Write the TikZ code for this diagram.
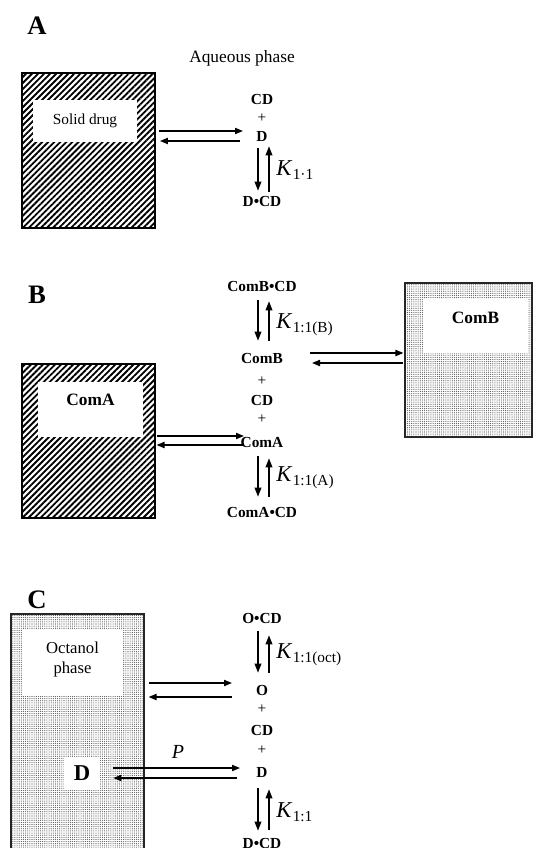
\documentclass[tikz,border=0pt]{standalone}
\usepackage{fontspec}
\setmainfont{Liberation Serif}
\usetikzlibrary{arrows.meta,calc,fit,patterns.meta}
\tikzset{
  % Solid phase: dense diagonal hatching.
  eq/solid/.style={draw=black, line width=0.8pt, inner sep=0pt,
    pattern={Lines[angle=45,distance=3.2pt,line width=1.4pt]}},
  % Second phase: fine stipple.
  eq/stip/.style={draw=black!85, line width=0.8pt, inner sep=0pt,
    pattern={Dots[distance=1.6pt,radius=0.42pt]}, pattern color=black!70},
  % White label patch inside a phase.
  eq/blank/.style={fill=white, inner sep=0pt},
  % Species in solution.
  eq/chem/.style={font=\fontsize{11.5}{13}\selectfont\bfseries, inner sep=1pt},
  eq/plus/.style={font=\fontsize{11.5}{13}\selectfont, inner sep=1pt},
  eq/K/.style={font=\fontsize{17}{19}\selectfont, anchor=west, inner sep=0pt},
  eq/panel/.style={font=\fontsize{20}{22}\selectfont\bfseries},
  eq/txt/.style={font=\fontsize{11.5}{14}\selectfont, align=center, inner sep=0pt},
  % Arrows: thin for transfer between phases, heavy for complexation.
  eq/arr/.style={-{Triangle[length=6pt,width=4.6pt]}, line width=1.15pt},
  eq/varr/.style={-{Triangle[length=7pt,width=4.8pt]}, line width=1.6pt},
}
\newcommand{\keq}[1]{\textit{K}\kern0.3pt\raisebox{-0.35ex}{\fontsize{11.5}{13}\selectfont #1}}

\begin{document}
\begin{tikzpicture}[x=0.75pt,y=-0.75pt]
  \useasboundingbox (0,0) rectangle (533,848);
  % (A) solid drug in contact with the aqueous phase
  \node[eq/panel] (pA) at (37,26) {A};
  \node[eq/txt, font=\fontsize{13}{15}\selectfont] (aq) at (242,58) {Aqueous phase};
  \node[eq/solid, fit={(22,73)(155,228)}] (solidA) {};
  \node[eq/blank, fit={(33,100)(137,142)}] (solidAw) {};
  \node[eq/txt] (solidAt) at (solidAw) {Solid drug};
  \node[eq/chem] (CDa) at (262,100) {CD};
  \node[eq/plus] (plA) at (262,118) {+};
  \node[eq/chem] (Da) at (262,136) {D};
  \node[eq/chem] (DCDa) at (262,201) {D•CD};
  \node[eq/K] (Ka) at (276,170) {\keq{1·1}};
  \draw[eq/arr] ($(solidA.east |- Da)+(3,-5)$) -- ($(Da)+(-19,-5)$);
  \draw[eq/arr] ($(Da)+(-22,5)$) -- ($(solidA.east |- Da)+(4,5)$);
  \draw[eq/varr] ($(Da)+(-4,12)$) -- ($(DCDa)+(-4,-10)$);
  \draw[eq/varr] ($(DCDa)+(7,-9)$) -- ($(Da)+(7,10)$);

  % (B) two solid components sharing the cyclodextrin
  \node[eq/panel] (pB) at (37,295) {B};
  \node[eq/solid, fit={(22,364)(155,518)}] (solidCA) {};
  \node[eq/blank, fit={(38,382)(143,437)}] (solidCAw) {};
  \node[eq/chem, font=\fontsize{13}{15}\selectfont\bfseries] (solidCAt) at ($(solidCAw)+(0,-10)$) {ComA};
  \node[eq/stip, fit={(405,283)(532,437)}] (solidCB) {};
  \node[eq/blank, fit={(423,299)(528,353)}] (solidCBw) {};
  \node[eq/chem, font=\fontsize{13}{15}\selectfont\bfseries] (solidCBt) at ($(solidCBw)+(0,-8)$) {ComB};
  \node[eq/chem] (CBCD) at (262,286) {ComB•CD};
  \node[eq/chem] (CB) at (262,358) {ComB};
  \node[eq/plus] (plB1) at (262,381) {+};
  \node[eq/chem] (CDb) at (262,400) {CD};
  \node[eq/plus] (plB2) at (262,419) {+};
  \node[eq/chem] (CA) at (262,442) {ComA};
  \node[eq/chem] (CACD) at (262,512) {ComA•CD};
  \node[eq/K] (KB) at (276,325) {\keq{1:1(B)}};
  \node[eq/K] (KA) at (276,478) {\keq{1:1(A)}};
  \draw[eq/varr] ($(CBCD)+(-4,14)$) -- ($(CB)+(-4,-17)$);
  \draw[eq/varr] ($(CB)+(7,-17)$) -- ($(CBCD)+(7,15)$);
  \draw[eq/varr] ($(CA)+(-4,14)$) -- ($(CACD)+(-4,-15)$);
  \draw[eq/varr] ($(CACD)+(7,-15)$) -- ($(CA)+(7,16)$);
  \draw[eq/arr] ($(CB)+(48,-5)$) -- ($(solidCB.west |- CB)+(-1,-5)$);
  \draw[eq/arr] ($(solidCB.west |- CB)+(-1,5)$) -- ($(CB)+(50,5)$);
  \draw[eq/arr] ($(solidCA.east |- CA)+(1,-6)$) -- ($(CA)+(-18,-6)$);
  \draw[eq/arr] ($(CA)+(-19,3)$) -- ($(solidCA.east |- CA)+(1,3)$);

  % (C) octanol/water partition with complexation in water
  \node[eq/panel] (pC) at (37,600) {C};
  \node[eq/stip, fit={(11,614)(144,870)}] (oct) {};
  \node[eq/blank, fit={(22,630)(123,695)}] (octw) {};
  \node[eq/txt, font=\fontsize{12.5}{15}\selectfont] (octt) at ($(octw)+(0,-3)$) {Octanol\\phase};
  \node[eq/blank, fit={(64,757)(100,790)}] (octDw) {};
  \node[eq/chem, font=\fontsize{17}{19}\selectfont\bfseries] (octD) at (octDw) {D};
  \node[eq/chem] (OCD) at (262,618) {O•CD};
  \node[eq/chem] (Oc) at (262,690) {O};
  \node[eq/plus] (plC1) at (262,709) {+};
  \node[eq/chem] (CDc) at (262,730) {CD};
  \node[eq/plus] (plC2) at (262,750) {+};
  \node[eq/chem] (Dc) at (262,772) {D};
  \node[eq/chem] (DCDc) at (262,843) {D•CD};
  \node[eq/K] (Koct) at (276,655) {\keq{1:1(oct)}};
  \node[eq/K] (Kc) at (276,812) {\keq{1:1}};
  \node[font=\fontsize{15}{17}\selectfont\itshape] (P) at (178,752) {P};
  \draw[eq/varr] ($(OCD)+(-4,13)$) -- ($(Oc)+(-4,-17)$);
  \draw[eq/varr] ($(Oc)+(7,-17)$) -- ($(OCD)+(7,17)$);
  \draw[eq/varr] ($(Dc)+(-4,16)$) -- ($(DCDc)+(-4,-12)$);
  \draw[eq/varr] ($(DCDc)+(7,-13)$) -- ($(Dc)+(7,17)$);
  \draw[eq/arr] ($(oct.east |- Oc)+(4,-7)$) -- ($(Oc)+(-30,-7)$);
  \draw[eq/arr] ($(Oc)+(-30,7)$) -- ($(oct.east |- Oc)+(4,7)$);
  \draw[eq/arr] ($(octDw.east |- Dc)+(13,-4)$) -- ($(Dc)+(-22,-4)$);
  \draw[eq/arr] ($(Dc)+(-25,6)$) -- ($(octDw.east |- Dc)+(13,6)$);
\end{tikzpicture}
\end{document}
